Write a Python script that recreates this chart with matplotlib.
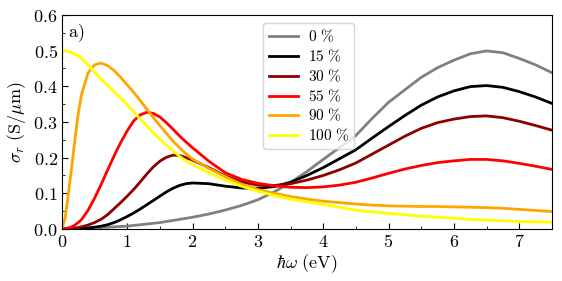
import numpy as np
from matplotlib import pyplot as plt
from matplotlib.ticker import FuncFormatter, MultipleLocator

plt.rcParams['mathtext.fontset'] = 'cm'
plt.rcParams['font.family'] = 'serif'

# photon energy (eV)
energy = [0, 0.05, 0.1, 0.15, 0.2, 0.25, 0.3, 0.4, 0.5, 0.6, 0.7, 0.8, 0.9,
          1.0, 1.1, 1.2, 1.3, 1.4, 1.5, 1.6, 1.7, 1.8, 1.9, 2.0, 2.25, 2.5,
          2.75, 3.0, 3.25, 3.5, 3.75, 4.0, 4.25, 4.5, 4.75, 5.0, 5.25, 5.5,
          5.75, 6.0, 6.25, 6.5, 6.75, 7.0, 7.25, 7.5]

sig_0 = [0, 0, 0.0001, 0.0003, 0.0005, 0.0008, 0.001, 0.002, 0.003, 0.004,
         0.005, 0.006, 0.007, 0.008, 0.01, 0.012, 0.014, 0.016, 0.018, 0.021,
         0.024, 0.027, 0.03, 0.033, 0.042, 0.053, 0.066, 0.082, 0.104, 0.13,
         0.161, 0.195, 0.228, 0.262, 0.31, 0.355, 0.39, 0.425, 0.452, 0.473,
         0.491, 0.499, 0.494, 0.478, 0.46, 0.438]
sig_15 = [0, 0, 0.0002, 0.0005, 0.001, 0.0015, 0.002, 0.003, 0.005, 0.008,
          0.012, 0.018, 0.026, 0.035, 0.045, 0.056, 0.068, 0.08, 0.092, 0.104,
          0.114, 0.122, 0.127, 0.129, 0.127, 0.12, 0.115, 0.114, 0.119, 0.131,
          0.15, 0.172, 0.197, 0.222, 0.255, 0.287, 0.318, 0.347, 0.37, 0.387,
          0.399, 0.402, 0.397, 0.385, 0.37, 0.352]
sig_30 = [0, 0.0002, 0.0008, 0.0015, 0.003, 0.004, 0.006, 0.011, 0.018, 0.027,
          0.04, 0.057, 0.074, 0.092, 0.111, 0.132, 0.154, 0.174, 0.19, 0.201,
          0.207, 0.206, 0.2, 0.193, 0.172, 0.149, 0.132, 0.123, 0.122, 0.127,
          0.137, 0.15, 0.166, 0.185, 0.21, 0.235, 0.26, 0.282, 0.298, 0.308,
          0.315, 0.317, 0.312, 0.302, 0.29, 0.277]
sig_55 = [0, 0.001, 0.003, 0.006, 0.011, 0.018, 0.026, 0.052, 0.086, 0.124,
          0.165, 0.205, 0.242, 0.275, 0.303, 0.32, 0.327, 0.324, 0.314, 0.298,
          0.28, 0.261, 0.244, 0.228, 0.19, 0.158, 0.139, 0.128, 0.121, 0.117,
          0.116, 0.118, 0.123, 0.131, 0.143, 0.156, 0.168, 0.178, 0.186, 0.191,
          0.195, 0.195, 0.191, 0.184, 0.176, 0.167]
sig_90 = [0, 0.03, 0.098, 0.172, 0.25, 0.322, 0.375, 0.437, 0.46, 0.465,
          0.458, 0.444, 0.425, 0.404, 0.383, 0.36, 0.336, 0.312, 0.29, 0.268,
          0.247, 0.228, 0.211, 0.196, 0.17, 0.147, 0.126, 0.111, 0.1, 0.091,
          0.084, 0.078, 0.074, 0.07, 0.067, 0.065, 0.064, 0.063, 0.063, 0.062,
          0.061, 0.06, 0.058, 0.055, 0.052, 0.049]
sig_100 = [0.5, 0.5, 0.498, 0.495, 0.49, 0.485, 0.478, 0.46, 0.44, 0.42,
           0.402, 0.385, 0.367, 0.348, 0.328, 0.308, 0.289, 0.27, 0.252, 0.235,
           0.219, 0.204, 0.191, 0.18, 0.158, 0.137, 0.12, 0.106, 0.094, 0.084,
           0.076, 0.069, 0.061, 0.053, 0.048, 0.044, 0.04, 0.036, 0.033, 0.03,
           0.027, 0.025, 0.023, 0.021, 0.02, 0.019]

labels = ['0', '15', '30', '55', '90', '100']
colors = ['gray', 'black', 'darkred', 'red', 'orange', 'yellow']
series = [sig_0, sig_15, sig_30, sig_55, sig_90, sig_100]

fig = plt.figure(figsize=(5.62, 2.81), dpi=100)
ax = fig.add_axes([0.110, 0.185, 0.872, 0.762])

for s, lab, c in zip(series, labels, colors):
    ax.plot(energy, s, color=c, lw=2, label=r'$%s\ \%%$' % lab)

ax.set_xlim(0, 7.5)
ax.set_ylim(0, 0.6)
ax.xaxis.set_major_locator(MultipleLocator(1))
ax.xaxis.set_minor_locator(MultipleLocator(0.5))
ax.yaxis.set_major_locator(MultipleLocator(0.1))
ax.yaxis.set_minor_locator(MultipleLocator(0.05))
ax.xaxis.set_major_formatter(FuncFormatter(lambda v, p: r'$%d$' % v))
ax.yaxis.set_major_formatter(FuncFormatter(lambda v, p: r'$%.1f$' % v))
ax.tick_params(which='both', direction='in', labelsize=13, pad=3)
ax.tick_params(which='major', length=4)
ax.tick_params(which='minor', length=2)

ax.set_xlabel(r'$\hbar\omega\ \mathrm{(eV)}$', fontsize=13, labelpad=1)
ax.set_ylabel(r'$\sigma_r\ \mathrm{(S/\mu m)}$', fontsize=13, labelpad=4)
ax.text(0.012, 0.965, r'$\mathrm{a)}$', transform=ax.transAxes,
        fontsize=13, va='top', ha='left')

ax.legend(loc='upper left', bbox_to_anchor=(0.411, 0.963), borderaxespad=0,
          fontsize=11, handlelength=1.9, handletextpad=0.65,
          labelspacing=0.22, borderpad=0.35)

fig.savefig('out.png', dpi=100)
